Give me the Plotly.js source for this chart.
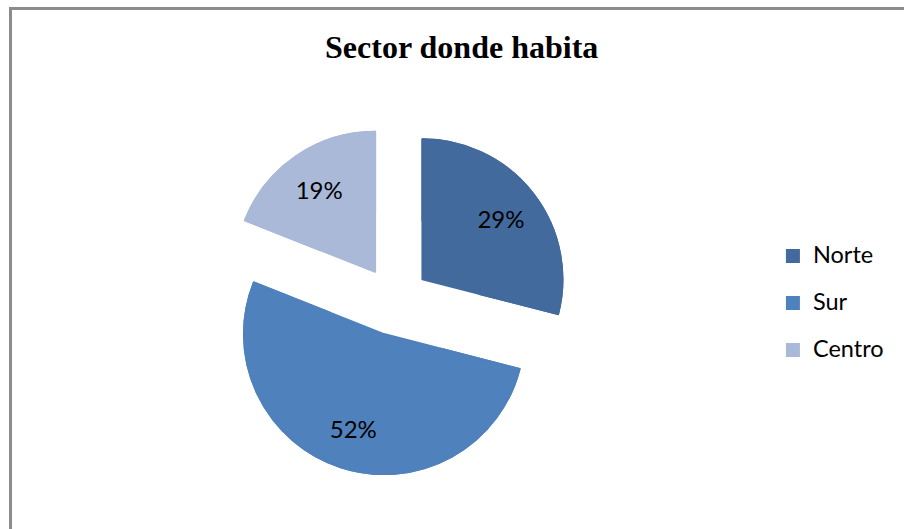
<!DOCTYPE html>
<html>
<head>
<meta charset="utf-8">
<script src="https://cdn.plot.ly/plotly-3.0.1.min.js"></script>
<style>
  html, body { margin: 0; padding: 0; background: #ffffff; overflow: hidden; }
  #wrap { position: relative; width: 904px; height: 529px; overflow: hidden; }
  #chart { position: absolute; left: 0; top: 0; width: 904px; height: 529px; }
  #frame { position: absolute; left: 9px; top: 7px; width: 1200px; height: 1200px;
           border-top: 3px solid #8c8c8c; border-left: 3px solid #8c8c8c;
           pointer-events: none; box-sizing: border-box; }
</style>
</head>
<body>
<div id="wrap">
  <div id="chart"></div>
  <div id="frame"></div>
</div>
<script>
// Data
var sectores = ["Norte", "Sur", "Centro"];
var porcentajes = [29, 52, 19];
var colores = ["#426A9D", "#4F81BD", "#AAB9D8"];
var titulo = "Sector donde habita";

var legendLabels = sectores.map(function (s) {
  return "<span style='font-size:23.5px'>" + s + "</span><br> ";
});

var dominio = { x: [0.2431, 0.6303], y: [0.1006, 0.7622] };
var tirar = [0.25, 0.25, 0.25];

// solid pie underneath (fills the centre)
var base = {
  type: "pie",
  labels: legendLabels,
  values: porcentajes,
  sort: false,
  direction: "clockwise",
  rotation: 0,
  pull: tirar,
  marker: { colors: colores, line: { width: 2, color: colores } },
  textinfo: "none",
  showlegend: false,
  domain: dominio,
  hoverinfo: "skip"
};

// ring on top carrying the labels and legend
var ring = {
  type: "pie",
  labels: legendLabels,
  values: porcentajes,
  sort: false,
  direction: "clockwise",
  rotation: 0,
  pull: tirar,
  hole: 0.42,
  marker: { colors: colores, line: { width: 2, color: colores } },
  textinfo: "percent",
  textposition: "inside",
  insidetextorientation: "horizontal",
  textfont: { family: "Lato, 'Open Sans', sans-serif", size: 24, color: "#000000" },
  domain: dominio,
  hoverinfo: "label+percent"
};

var layout = {
  width: 904,
  height: 529,
  margin: { l: 0, r: 0, t: 0, b: 0 },
  paper_bgcolor: "#ffffff",
  title: {
    text: "<b>" + titulo + "</b>",
    font: { family: "'Liberation Serif', 'Times New Roman', serif", size: 32, color: "#000000" },
    x: 0.5107, xanchor: "center",
    y: 0.911, yanchor: "middle"
  },
  showlegend: true,
  legend: {
    x: 0.855, xanchor: "left",
    y: 0.4063, yanchor: "middle",
    valign: "top",
    font: { family: "Lato, 'Open Sans', sans-serif", size: 16.92, color: "#000000" },
    bgcolor: "rgba(0,0,0,0)"
  }
};

Plotly.newPlot("chart", [base, ring], layout, { displayModeBar: false, staticPlot: true });
</script>
</body>
</html>
